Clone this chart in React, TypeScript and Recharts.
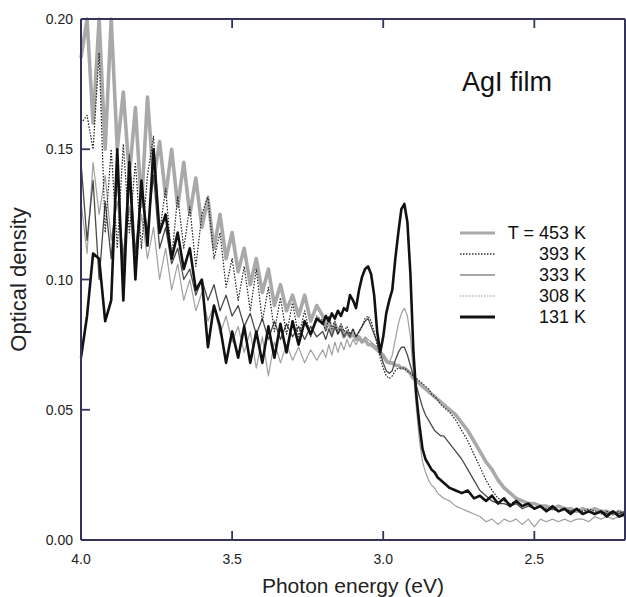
import React from "react"
import { LineChart, Line, XAxis, YAxis } from "recharts"

// photon energy grid (eV), shared by every spectrum
const ENERGY = [
  4.0, 3.98, 3.96, 3.94, 3.92, 3.9, 3.88, 3.86, 3.84, 3.82, 3.8, 3.78, 3.76, 3.74, 3.72, 3.7, 3.68, 3.66, 3.64, 3.62,
  3.6, 3.58, 3.56, 3.54, 3.52, 3.5, 3.48, 3.46, 3.44, 3.42, 3.4, 3.38, 3.36, 3.34, 3.32, 3.3, 3.28, 3.26, 3.24, 3.22,
  3.2, 3.19, 3.18, 3.17, 3.16, 3.15, 3.14, 3.13, 3.12, 3.11, 3.1, 3.09, 3.08, 3.07, 3.06, 3.05, 3.04, 3.03, 3.02, 3.01,
  3.0, 2.99, 2.98, 2.97, 2.96, 2.95, 2.94, 2.93, 2.92, 2.91, 2.9, 2.89, 2.88, 2.87, 2.86, 2.85, 2.84, 2.83, 2.82, 2.81,
  2.8, 2.78, 2.76, 2.74, 2.72, 2.7, 2.68, 2.66, 2.64, 2.62, 2.6, 2.58, 2.56, 2.54, 2.52, 2.5, 2.48, 2.46, 2.44, 2.42,
  2.4, 2.38, 2.36, 2.34, 2.32, 2.3, 2.28, 2.26, 2.24, 2.22, 2.2,
]

// optical density per temperature (peaks that run off the top are held at 0.20)
const T453 = [
  0.185, 0.2, 0.16, 0.2, 0.15, 0.2, 0.15, 0.172, 0.14, 0.166, 0.128, 0.17, 0.138, 0.153, 0.132, 0.15, 0.128, 0.145, 0.125, 0.139,
  0.12, 0.131, 0.112, 0.125, 0.108, 0.118, 0.103, 0.112, 0.098, 0.108, 0.095, 0.104, 0.09, 0.098, 0.088, 0.094, 0.086, 0.094, 0.084, 0.09,
  0.086, 0.081, 0.085, 0.079, 0.083, 0.08, 0.082, 0.078, 0.08, 0.078, 0.079, 0.077, 0.078, 0.076, 0.077, 0.075, 0.075, 0.074, 0.073, 0.072,
  0.071, 0.069, 0.068, 0.068, 0.067, 0.067, 0.066, 0.066, 0.065, 0.064, 0.062, 0.061, 0.06, 0.059, 0.058, 0.057, 0.056, 0.055, 0.054, 0.053,
  0.052, 0.05, 0.048, 0.045, 0.042, 0.038, 0.034, 0.03, 0.027, 0.023, 0.02, 0.018, 0.016, 0.015, 0.014, 0.014, 0.013, 0.013, 0.012, 0.013,
  0.012, 0.012, 0.011, 0.012, 0.011, 0.012, 0.011, 0.011, 0.01, 0.011, 0.01,
]

const T393 = [
  0.16, 0.163, 0.15, 0.187, 0.118, 0.15, 0.112, 0.152, 0.118, 0.145, 0.112, 0.14, 0.155, 0.118, 0.135, 0.108, 0.132, 0.112, 0.128, 0.105,
  0.125, 0.132, 0.108, 0.118, 0.097, 0.108, 0.092, 0.105, 0.088, 0.104, 0.084, 0.097, 0.08, 0.093, 0.079, 0.091, 0.078, 0.088, 0.078, 0.086,
  0.084, 0.08, 0.086, 0.081, 0.084, 0.079, 0.083, 0.08, 0.082, 0.079, 0.081, 0.078, 0.08, 0.082, 0.085, 0.086, 0.084, 0.08, 0.075, 0.07,
  0.066, 0.063, 0.062, 0.063, 0.065, 0.066, 0.066, 0.066, 0.065, 0.064, 0.063, 0.062, 0.061, 0.06, 0.059, 0.058, 0.056, 0.055, 0.054, 0.052,
  0.051, 0.049, 0.046, 0.042, 0.038, 0.033, 0.028, 0.023, 0.019, 0.016, 0.015, 0.014, 0.015, 0.013, 0.014, 0.012, 0.013, 0.012, 0.012, 0.011,
  0.012, 0.011, 0.012, 0.011, 0.012, 0.011, 0.01, 0.011, 0.01, 0.011, 0.01,
]

const T333 = [
  0.145, 0.115, 0.138, 0.1, 0.13, 0.108, 0.14, 0.105, 0.148, 0.11, 0.135, 0.118, 0.14, 0.112, 0.12, 0.106, 0.112, 0.1, 0.104, 0.094,
  0.1, 0.092, 0.098, 0.088, 0.094, 0.086, 0.09, 0.082, 0.087, 0.079, 0.085, 0.077, 0.084, 0.077, 0.083, 0.078, 0.082, 0.077, 0.082, 0.078,
  0.08, 0.077, 0.081, 0.078, 0.082, 0.079, 0.081, 0.078, 0.08, 0.078, 0.081, 0.078, 0.08, 0.082, 0.084, 0.085, 0.082, 0.079, 0.076, 0.072,
  0.068, 0.065, 0.064, 0.065, 0.069, 0.072, 0.074, 0.074, 0.071, 0.067, 0.063, 0.059, 0.055, 0.051, 0.048, 0.046, 0.044, 0.042, 0.041, 0.04,
  0.04, 0.037, 0.034, 0.031, 0.027, 0.023, 0.019, 0.017, 0.015, 0.014, 0.014, 0.013, 0.014, 0.012, 0.013, 0.012, 0.013, 0.011, 0.012, 0.011,
  0.012, 0.011, 0.012, 0.01, 0.011, 0.01, 0.011, 0.01, 0.011, 0.01, 0.011,
]

const T308 = [
  0.13, 0.11, 0.145, 0.125, 0.14, 0.115, 0.13, 0.11, 0.128, 0.105, 0.125, 0.108, 0.12, 0.1, 0.112, 0.096, 0.106, 0.092, 0.1, 0.088,
  0.095, 0.084, 0.09, 0.079, 0.086, 0.076, 0.082, 0.072, 0.08, 0.066, 0.078, 0.063, 0.076, 0.068, 0.075, 0.069, 0.074, 0.068, 0.073, 0.069,
  0.073, 0.07, 0.075, 0.071, 0.076, 0.072, 0.076, 0.073, 0.077, 0.074, 0.077, 0.075, 0.077, 0.076, 0.078, 0.077, 0.076, 0.075, 0.074, 0.072,
  0.07, 0.068, 0.068, 0.071, 0.077, 0.083, 0.087, 0.089, 0.086, 0.078, 0.064, 0.05, 0.038, 0.03, 0.026, 0.023, 0.021, 0.02, 0.018, 0.017,
  0.016, 0.015, 0.013, 0.012, 0.011, 0.01, 0.009, 0.007, 0.008, 0.006, 0.008, 0.007, 0.008, 0.006, 0.008, 0.005, 0.008, 0.007, 0.008, 0.007,
  0.008, 0.007, 0.008, 0.008, 0.007, 0.009, 0.008, 0.009, 0.008, 0.009, 0.009,
]

const T131 = [
  0.07, 0.086, 0.11, 0.108, 0.084, 0.092, 0.15, 0.092, 0.145, 0.1, 0.138, 0.113, 0.15, 0.118, 0.125, 0.108, 0.118, 0.104, 0.112, 0.096,
  0.1, 0.074, 0.09, 0.082, 0.068, 0.08, 0.07, 0.082, 0.068, 0.08, 0.068, 0.082, 0.07, 0.083, 0.072, 0.084, 0.075, 0.084, 0.079, 0.085,
  0.083, 0.086, 0.084, 0.087, 0.085, 0.088, 0.086, 0.089, 0.088, 0.094, 0.092, 0.089, 0.096, 0.101, 0.104, 0.105, 0.102, 0.094, 0.08, 0.072,
  0.078, 0.087, 0.092, 0.096, 0.108, 0.118, 0.127, 0.129, 0.122, 0.102, 0.072, 0.055, 0.044, 0.035, 0.031, 0.029, 0.027, 0.026, 0.024, 0.023,
  0.022, 0.02, 0.019, 0.018, 0.019, 0.016, 0.017, 0.015, 0.017, 0.014, 0.016, 0.013, 0.015, 0.013, 0.014, 0.012, 0.013, 0.011, 0.013, 0.011,
  0.012, 0.01, 0.012, 0.01, 0.011, 0.01, 0.011, 0.009, 0.011, 0.009, 0.01,
]

const X_TICKS = [4.0, 3.5, 3.0, 2.5]
const Y_TICKS = [0, 0.05, 0.1, 0.15, 0.2]
const X_DOMAIN = [2.2, 4.0]
const Y_DOMAIN = [0, 0.2]

// drawn bottom-to-top; "order" is the row in the legend
const SERIES = [
  { key: "t453", label: "T = 453 K", values: T453, color: "#a9a9a9", width: 3.6, dash: undefined, order: 0 },
  { key: "t308", label: "308 K", values: T308, color: "#a0a0a0", width: 1.2, dash: undefined, order: 3 },
  { key: "t333", label: "333 K", values: T333, color: "#4a4a4a", width: 1.3, dash: undefined, order: 2 },
  { key: "t393", label: "393 K", values: T393, color: "#1e1e1e", width: 1.2, dash: "1.5 1.5", order: 1 },
  { key: "t131", label: "131 K", values: T131, color: "#111111", width: 2.6, dash: undefined, order: 4 },
]

const LEGEND_COLORS: Record<string, string> = {
  t453: "#a9a9a9",
  t393: "#333333",
  t333: "#8a8a8a",
  t308: "#b8b8b8",
  t131: "#111111",
}

const rows = ENERGY.map((e, i) => {
  const row: Record<string, number> = { e }
  SERIES.forEach((s) => {
    row[s.key] = s.values[i]
  })
  return row
})

const FONT = "'Liberation Sans', Arial, Helvetica, sans-serif"
const INK = "#222222"
const FRAME = "#34345a"
const FRAME_W = 2
const TICK_W = 1.8
const TICK_LEN = 9

function BottomTick({ x, y, payload }: any) {
  return (
    <g>
      <line x1={x} y1={y} x2={x} y2={y - TICK_LEN} stroke={FRAME} strokeWidth={TICK_W} />
      <text x={x} y={y + 24} textAnchor="middle" fontSize={14} fill={INK} fontFamily={FONT}>
        {Number(payload.value).toFixed(1)}
      </text>
    </g>
  )
}

function TopTick({ x, y }: any) {
  return <line x1={x} y1={y} x2={x} y2={y + TICK_LEN} stroke={FRAME} strokeWidth={TICK_W} />
}

function LeftTick({ x, y, payload }: any) {
  return (
    <g>
      <line x1={x} y1={y} x2={x + TICK_LEN} y2={y} stroke={FRAME} strokeWidth={TICK_W} />
      <text x={x - 8} y={y + 5} textAnchor="end" fontSize={14} fill={INK} fontFamily={FONT}>
        {Number(payload.value).toFixed(2)}
      </text>
    </g>
  )
}

function RightTick({ x, y }: any) {
  return <line x1={x} y1={y} x2={x - TICK_LEN} y2={y} stroke={FRAME} strokeWidth={TICK_W} />
}

export default function App() {
  const legendItems = [...SERIES].sort((a, b) => a.order - b.order)

  return (
    <div style={{ position: "relative", width: 626, height: 597, background: "white", fontFamily: FONT }}>
      <style>{"body{margin:0}"}</style>
      <LineChart width={626} height={597} data={rows} margin={{ top: 18, right: 0, bottom: 0, left: 0 }}>
        <XAxis
          dataKey="e"
          type="number"
          domain={X_DOMAIN}
          reversed
          ticks={X_TICKS}
          tickSize={0}
          tickMargin={0}
          tickLine={false}
          tick={<BottomTick />}
          height={57}
          stroke={FRAME}
          axisLine={{ stroke: FRAME, strokeWidth: FRAME_W }}
          label={{ value: "Photon energy (eV)", position: "insideBottom", offset: 4, fontSize: 21, fill: INK }}
        />
        <XAxis
          xAxisId="top"
          orientation="top"
          dataKey="e"
          type="number"
          domain={X_DOMAIN}
          reversed
          ticks={X_TICKS}
          tickSize={0}
          tickMargin={0}
          tickLine={false}
          tick={<TopTick />}
          height={1}
          stroke={FRAME}
          axisLine={{ stroke: FRAME, strokeWidth: FRAME_W }}
        />
        <YAxis
          type="number"
          domain={Y_DOMAIN}
          ticks={Y_TICKS}
          tickSize={0}
          tickMargin={0}
          tickLine={false}
          tick={<LeftTick />}
          width={81}
          stroke={FRAME}
          axisLine={{ stroke: FRAME, strokeWidth: FRAME_W }}
          label={{ value: "Optical density", angle: -90, position: "insideLeft", offset: 18, fontSize: 22, fill: INK, style: { textAnchor: "middle" } }}
        />
        <YAxis
          yAxisId="right"
          orientation="right"
          type="number"
          domain={Y_DOMAIN}
          ticks={Y_TICKS}
          tickSize={0}
          tickMargin={0}
          tickLine={false}
          tick={<RightTick />}
          width={1}
          stroke={FRAME}
          axisLine={{ stroke: FRAME, strokeWidth: FRAME_W }}
        />
        {SERIES.map((s) => (
          <Line
            key={s.key}
            type="linear"
            dataKey={s.key}
            stroke={s.color}
            strokeWidth={s.width}
            strokeDasharray={s.dash}
            strokeLinejoin="round"
            dot={false}
            activeDot={false}
            isAnimationActive={false}
          />
        ))}
      </LineChart>

      <div style={{ position: "absolute", left: 462, top: 67, fontSize: 27, color: "#111", whiteSpace: "nowrap" }}>AgI film</div>

      <svg style={{ position: "absolute", left: 455, top: 220 }} width={140} height={110}>
        {legendItems.map((s, i) => {
          const cy = 13 + i * 21
          return (
            <g key={s.key}>
              <line
                x1={5}
                x2={40}
                y1={cy}
                y2={cy}
                stroke={LEGEND_COLORS[s.key]}
                strokeWidth={s.key === "t453" || s.key === "t131" ? 3 : 1.6}
                strokeDasharray={s.key === "t393" || s.key === "t308" ? "1.5 1.5" : undefined}
              />
              <text x={131} y={cy + 6} textAnchor="end" fontSize={18} fill="#111" fontFamily={FONT}>
                {s.label}
              </text>
            </g>
          )
        })}
      </svg>
    </div>
  )
}
